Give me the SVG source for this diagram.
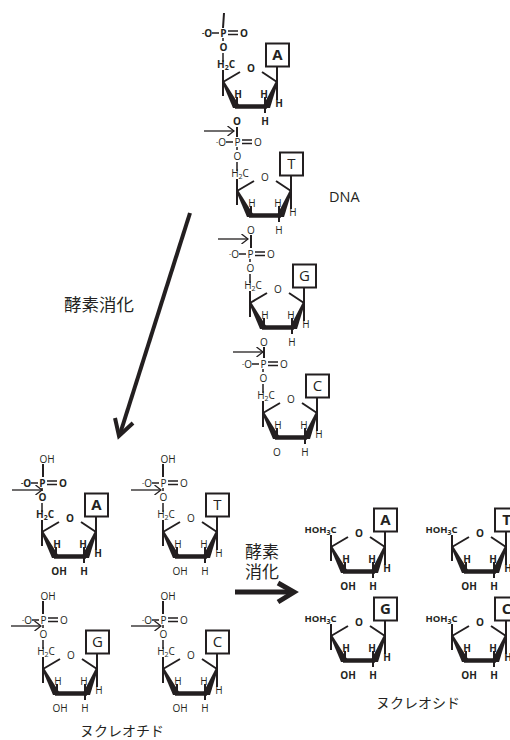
<svg xmlns="http://www.w3.org/2000/svg" width="510" height="740" viewBox="0 0 510 740">
<style>
text{font-family:"Open Sans","Noto Sans",sans-serif;fill:#231f20;text-anchor:middle;opacity:.99}
.a{font-size:10px}
.n{font-size:9.500px;font-weight:700}
.b{font-weight:700}
.box{font-size:15px}
.j{font-family:"Noto Sans CJK JP",sans-serif;font-size:14px;text-anchor:start}
.l{stroke:#231f20;stroke-width:2;fill:none}
.t{stroke:#231f20;stroke-width:1.500;fill:none}
.d{stroke:#231f20;stroke-width:1.300;fill:none}
.h{stroke:#231f20;stroke-width:4;fill:none}
.w{fill:#231f20}
.bar{stroke:#231f20;stroke-width:4.500;fill:none}
.r{stroke:#231f20;stroke-width:2;fill:#fff}
</style>
<defs>
<g id="sugar">
<path class="l" d="M223 70V96M223 82L240 72M262 72L277 82M237 107V97M265 107V97M277 82V100M265 107V113M277 66V82"/>
<polygon class="w" points="222,82 224,81 241,108 233,108"/>
<polygon class="w" points="276,81 278,82 270,108 262,108"/>
<path class="bar" d="M235 106.500H267"/>
<rect class="r" x="266" y="43.500" width="23" height="23"/>
</g>
<g id="phos">
<path class="t" d="M212 33H219M228 31H238M228 34.500H238M223 38V41M223 53V62"/>
</g>
<marker id="ah" viewBox="0 0 8 10" refX="7.500" refY="5" markerWidth="8" markerHeight="10" orient="auto" markerUnits="userSpaceOnUse"><path d="M1 0L7.500 5L1 10" fill="none" stroke="#231f20" stroke-width="1.300"/></marker>
</defs>
<g id="connectors">
<path class="h" d="M190 213L120 434"/>
<path class="h" d="M115 418L119 436L133 423"/>
<path class="h" style="stroke-width:5" d="M235 592H292"/>
<path class="h" style="stroke-width:5" d="M278 583L294 592L278 602"/>
<path class="d" marker-end="url(#ah)" d="M204 131H234"/>
<path class="d" marker-end="url(#ah)" d="M218 239H248"/>
<path class="d" marker-end="url(#ah)" d="M233 352H263"/>
<path class="d" marker-end="url(#ah)" d="M12 490H42"/>
<path class="d" marker-end="url(#ah)" d="M131 490H161"/>
<path class="d" marker-end="url(#ah)" d="M11 626H41"/>
<path class="d" marker-end="url(#ah)" d="M131 626H161"/>
<path class="l" d="M224 13L223 28M237 127V137M251 235V248M264 347V358"/>
<path class="l" d="M43 464V477M163 464V477M43 601V614M163 601V614"/>
</g>

<g id="dna-a"><use href="#sugar"/><use href="#phos"/>
<text class="a b" x="223.500" y="36.500">P</text><text class="a b" x="207" y="36.500"><tspan font-size="7" dy="-2">-</tspan><tspan dy="2">O</tspan></text><text class="a b" x="244" y="36.500">O</text><text class="a b" x="223.500" y="51">O</text><text class="a b" x="226" y="68">H<tspan font-size="7" dy="1.500">2</tspan><tspan dy="-1.500">C</tspan></text>
<text class="a b" x="251" y="72">O</text><text class="a b" x="238" y="98">H</text><text class="a b" x="264" y="98">H</text><text class="a b" x="279" y="107">H</text><text class="a b" x="265" y="124.500">H</text><text class="a b" x="237" y="124.500">O</text><text class="box b" x="277.500" y="60">A</text></g>

<g id="dna-t" transform="translate(14,109)"><use href="#sugar"/><use href="#phos"/>
<text class="a" x="223.500" y="36.500">P</text><text class="a" x="207" y="36.500"><tspan font-size="7" dy="-2">-</tspan><tspan dy="2">O</tspan></text><text class="a" x="244" y="36.500">O</text><text class="a" x="223.500" y="51">O</text><text class="a" x="226" y="68">H<tspan font-size="7" dy="1.500">2</tspan><tspan dy="-1.500">C</tspan></text>
<text class="a" x="251" y="72">O</text><text class="a" x="238" y="98">H</text><text class="a" x="264" y="98">H</text><text class="a" x="279" y="107">H</text><text class="a" x="265" y="124.500">H</text><text class="a" x="237" y="124.500">O</text><text class="box" x="277.500" y="60">T</text></g>

<g id="dna-g" transform="translate(27,221)"><use href="#sugar"/><use href="#phos"/>
<text class="a" x="223.500" y="36.500">P</text><text class="a" x="207" y="36.500"><tspan font-size="7" dy="-2">-</tspan><tspan dy="2">O</tspan></text><text class="a" x="244" y="36.500">O</text><text class="a" x="223.500" y="51">O</text><text class="a" x="226" y="68">H<tspan font-size="7" dy="1.500">2</tspan><tspan dy="-1.500">C</tspan></text>
<text class="a" x="251" y="72">O</text><text class="a" x="238" y="98">H</text><text class="a" x="264" y="98">H</text><text class="a" x="279" y="107">H</text><text class="a" x="265" y="124.500">H</text><text class="a" x="237" y="124.500">O</text><text class="box" x="277.500" y="60">G</text></g>

<g id="dna-c" transform="translate(40,331)"><use href="#sugar"/><use href="#phos"/>
<text class="a" x="223.500" y="36.500">P</text><text class="a" x="207" y="36.500"><tspan font-size="7" dy="-2">-</tspan><tspan dy="2">O</tspan></text><text class="a" x="244" y="36.500">O</text><text class="a" x="223.500" y="51">O</text><text class="a" x="226" y="68">H<tspan font-size="7" dy="1.500">2</tspan><tspan dy="-1.500">C</tspan></text>
<text class="a" x="251" y="72">O</text><text class="a" x="238" y="98">H</text><text class="a" x="264" y="98">H</text><text class="a" x="279" y="107">H</text><text class="a" x="265" y="124.500">H</text><text class="a" x="237" y="124.500">O</text><text class="box" x="277.500" y="60">C</text></g>

<g id="nt-a" transform="translate(-181,450)"><use href="#sugar"/><use href="#phos"/>
<text class="a" x="228" y="12.500">OH</text><text class="a b" x="223.500" y="36.500">P</text><text class="a b" x="207" y="36.500"><tspan font-size="7" dy="-2">-</tspan><tspan dy="2">O</tspan></text><text class="a b" x="244" y="36.500">O</text><text class="a b" x="223.500" y="51">O</text><text class="a b" x="226" y="68">H<tspan font-size="7" dy="1.500">2</tspan><tspan dy="-1.500">C</tspan></text>
<text class="a b" x="251" y="72">O</text><text class="a b" x="238" y="98">H</text><text class="a b" x="264" y="98">H</text><text class="a b" x="279" y="107">H</text><text class="a b" x="265" y="124.500">H</text><text class="a b" x="240" y="124.500">OH</text><text class="box b" x="277.500" y="60">A</text></g>

<g id="nt-t" transform="translate(-60,450)"><use href="#sugar"/><use href="#phos"/>
<text class="a" x="228" y="12.500">OH</text><text class="a" x="223.500" y="36.500">P</text><text class="a" x="207" y="36.500"><tspan font-size="7" dy="-2">-</tspan><tspan dy="2">O</tspan></text><text class="a" x="244" y="36.500">O</text><text class="a" x="223.500" y="51">O</text><text class="a" x="226" y="68">H<tspan font-size="7" dy="1.500">2</tspan><tspan dy="-1.500">C</tspan></text>
<text class="a" x="251" y="72">O</text><text class="a" x="238" y="98">H</text><text class="a" x="264" y="98">H</text><text class="a" x="279" y="107">H</text><text class="a" x="265" y="124.500">H</text><text class="a" x="240" y="124.500">OH</text><text class="box" x="277.500" y="60">T</text></g>

<g id="nt-g" transform="translate(-180,587)"><use href="#sugar"/><use href="#phos"/>
<text class="a" x="228" y="12.500">OH</text><text class="a" x="223.500" y="36.500">P</text><text class="a" x="207" y="36.500"><tspan font-size="7" dy="-2">-</tspan><tspan dy="2">O</tspan></text><text class="a" x="244" y="36.500">O</text><text class="a" x="223.500" y="51">O</text><text class="a" x="226" y="68">H<tspan font-size="7" dy="1.500">2</tspan><tspan dy="-1.500">C</tspan></text>
<text class="a" x="251" y="72">O</text><text class="a" x="238" y="98">H</text><text class="a" x="264" y="98">H</text><text class="a" x="279" y="107">H</text><text class="a" x="265" y="124.500">H</text><text class="a" x="240" y="124.500">OH</text><text class="box" x="277.500" y="60">G</text></g>

<g id="nt-c" transform="translate(-60,587)"><use href="#sugar"/><use href="#phos"/>
<text class="a" x="228" y="12.500">OH</text><text class="a" x="223.500" y="36.500">P</text><text class="a" x="207" y="36.500"><tspan font-size="7" dy="-2">-</tspan><tspan dy="2">O</tspan></text><text class="a" x="244" y="36.500">O</text><text class="a" x="223.500" y="51">O</text><text class="a" x="226" y="68">H<tspan font-size="7" dy="1.500">2</tspan><tspan dy="-1.500">C</tspan></text>
<text class="a" x="251" y="72">O</text><text class="a" x="238" y="98">H</text><text class="a" x="264" y="98">H</text><text class="a" x="279" y="107">H</text><text class="a" x="265" y="124.500">H</text><text class="a" x="240" y="124.500">OH</text><text class="box" x="277.500" y="60">C</text></g>

<g id="ns-a" transform="translate(108,465)"><use href="#sugar"/>
<text class="n" x="212.500" y="68">HOH<tspan font-size="7" dy="1.500">3</tspan><tspan dy="-1.500">C</tspan></text><text class="a b" x="251" y="72">O</text><text class="a b" x="238" y="98">H</text><text class="a b" x="264" y="98">H</text><text class="a b" x="279" y="107">H</text><text class="a b" x="265" y="124.500">H</text><text class="a b" x="240" y="124.500">OH</text><text class="box b" x="277.500" y="60">A</text></g>

<g id="ns-t" transform="translate(229,465)"><use href="#sugar"/>
<text class="n" x="212.500" y="68">HOH<tspan font-size="7" dy="1.500">3</tspan><tspan dy="-1.500">C</tspan></text><text class="a b" x="251" y="72">O</text><text class="a b" x="238" y="98">H</text><text class="a b" x="264" y="98">H</text><text class="a b" x="279" y="107">H</text><text class="a b" x="265" y="124.500">H</text><text class="a b" x="240" y="124.500">OH</text><text class="box b" x="277.500" y="60">T</text></g>

<g id="ns-g" transform="translate(108,554)"><use href="#sugar"/>
<text class="n" x="212.500" y="68">HOH<tspan font-size="7" dy="1.500">3</tspan><tspan dy="-1.500">C</tspan></text><text class="a b" x="251" y="72">O</text><text class="a b" x="238" y="98">H</text><text class="a b" x="264" y="98">H</text><text class="a b" x="279" y="107">H</text><text class="a b" x="265" y="124.500">H</text><text class="a b" x="240" y="124.500">OH</text><text class="box b" x="277.500" y="60">G</text></g>

<g id="ns-c" transform="translate(229,554)"><use href="#sugar"/>
<text class="n" x="212.500" y="68">HOH<tspan font-size="7" dy="1.500">3</tspan><tspan dy="-1.500">C</tspan></text><text class="a b" x="251" y="72">O</text><text class="a b" x="238" y="98">H</text><text class="a b" x="264" y="98">H</text><text class="a b" x="279" y="107">H</text><text class="a b" x="265" y="124.500">H</text><text class="a b" x="240" y="124.500">OH</text><text class="box b" x="277.500" y="60">C</text></g>

<g id="labels">
<text class="j" x="329" y="202" style="font-family:'Open Sans',sans-serif;font-size:14.500px">DNA</text>
<text class="j" x="64" y="311" style="font-size:17.500px">酵素消化</text>
<text class="j" x="245" y="558" style="font-size:17px">酵素</text>
<text class="j" x="245" y="578" style="font-size:17px">消化</text>
<text class="j" x="80" y="736">ヌクレオチド</text>
<text class="j" x="376" y="708">ヌクレオシド</text>
</g>
</svg>
